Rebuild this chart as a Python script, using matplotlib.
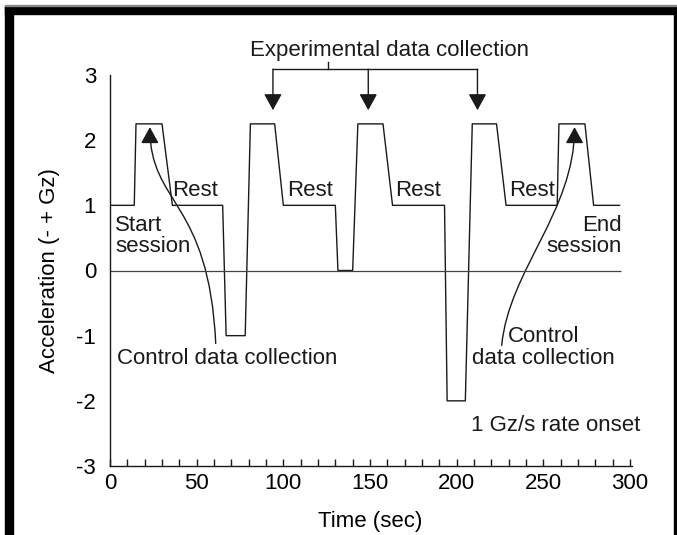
import matplotlib
matplotlib.use("Agg")
import matplotlib.pyplot as plt
from matplotlib.patches import FancyArrowPatch, Rectangle
from matplotlib.path import Path

plt.rcParams['font.family'] = ['Liberation Sans', 'DejaVu Sans']
plt.rcParams['axes.unicode_minus'] = False

# centrifuge profile: time (sec) vs acceleration (Gz)
time_s = [0, 14, 15, 30, 36, 65, 67, 78, 81, 95, 100, 130, 131.5, 140, 143, 157.5,
          163, 193, 194.5, 205, 209, 223, 228.5, 258, 259, 274, 279, 294]
accel = [1, 1, 2.25, 2.25, 1, 1, -1, -1, 2.25, 2.25, 1, 1, 0, 0, 2.25, 2.25,
         1, 1, -2, -2, 2.25, 2.25, 1, 1, 2.25, 2.25, 1, 1]

# annotation texts
rest_x = [49, 115.5, 177.5, 243.5]
rest_y = 1.23
exp_arrow_x = [94, 149, 212]
exp_text = "Experimental data collection"

# curved arrow control points (bezier)
left_curve = [(61, -1.12), (57, 1.1), (23, 1.0), (23, 2.2)]
right_curve = [(226, -1.15), (230, 0.0), (268, 0.9), (268, 2.2)]

x_ticks = [0, 50, 100, 150, 200, 250, 300]
y_ticks = [-3, -2, -1, 0, 1, 2, 3]

W, H = 677, 535
fig = plt.figure(figsize=(W / 100, H / 100), dpi=100)
ax = fig.add_axes([110 / W, 1 - 466 / H, 520 / W, 391 / H])

ink = '#1a1a1a'
fs = 16

ax.plot(time_s, accel, color=ink, lw=1.0)
ax.hlines(0, 0, 295, color='#444444', lw=0.9)

ax.set_xlim(0, 300)
ax.set_ylim(-3, 3)
ax.spines['top'].set_visible(False)
ax.spines['right'].set_visible(False)
for s in ['left', 'bottom']:
    ax.spines[s].set_color(ink)
    ax.spines[s].set_linewidth(1.0)
ax.spines['bottom'].set_bounds(0, 301)

ax.set_xticks(x_ticks)
ax.set_xticks(range(0, 301, 10), minor=True)
ax.set_yticks(y_ticks)
ax.tick_params(axis='x', which='both', direction='in', length=5, width=1,
               color=ink, labelsize=fs, pad=5)
ax.tick_params(axis='y', length=0, labelsize=fs, pad=10)
ax.set_xlabel('Time (sec)', fontsize=fs, labelpad=12)
ax.set_ylabel('Acceleration (- + Gz)', fontsize=fs, labelpad=12)

# Rest labels
for x in rest_x:
    ax.text(x, rest_y, 'Rest', fontsize=fs, ha='center', va='center', color=ink)

ax.text(3, 0.53, 'Start\nsession', fontsize=fs, ha='left', va='center',
        color=ink, linespacing=1.05)
ax.text(295, 0.53, 'End\nsession', fontsize=fs, ha='right', va='center',
        color=ink, linespacing=1.05)
ax.text(4, -1.35, 'Control data collection', fontsize=fs, ha='left',
        va='center', color=ink)
ax.text(250, -1.18, 'Control\ndata collection', fontsize=fs, ha='center',
        va='center', color=ink, linespacing=1.05)
ax.text(257, -2.38, '1 Gz/s rate onset', fontsize=fs, ha='center',
        va='center', color=ink)

# experimental data collection bracket
ax.text(161.5, 3.38, exp_text, fontsize=fs, ha='center', va='center',
        color=ink, clip_on=False)
ax.plot([exp_arrow_x[0], exp_arrow_x[-1]], [3.09, 3.09], color=ink, lw=1.0,
        clip_on=False)
ax.plot([126, 126], [3.09, 3.2], color=ink, lw=1.0, clip_on=False)
for x in exp_arrow_x:
    ax.annotate('', xy=(x, 2.46), xytext=(x, 3.09), annotation_clip=False,
                arrowprops=dict(arrowstyle='-|>,head_length=0.4,head_width=0.22',
                                color=ink, lw=1.0, mutation_scale=25,
                                shrinkA=0, shrinkB=0))

# curved arrows to control peaks
codes = [Path.MOVETO, Path.CURVE4, Path.CURVE4, Path.CURVE4]
for pts in [left_curve, right_curve]:
    arr = FancyArrowPatch(path=Path(pts, codes),
                          arrowstyle='-|>,head_length=0.4,head_width=0.22',
                          mutation_scale=25, color=ink, lw=1.0)
    ax.add_patch(arr)

# black frame around the figure
frame = [(5, 6, 672, 8), (5, 6, 8, 529), (674, 6, 3, 529)]
for x0, y0, w, h in frame:
    fig.patches.append(Rectangle((x0 / W, 1 - (y0 + h) / H), w / W, h / H,
                                 transform=fig.transFigure, color='black',
                                 zorder=10))
fig.patches.append(Rectangle((5 / W, 1 - 6 / H), 672 / W, 1 / H,
                             transform=fig.transFigure, color='#888888',
                             zorder=10))

fig.savefig('out.png', dpi=100)
